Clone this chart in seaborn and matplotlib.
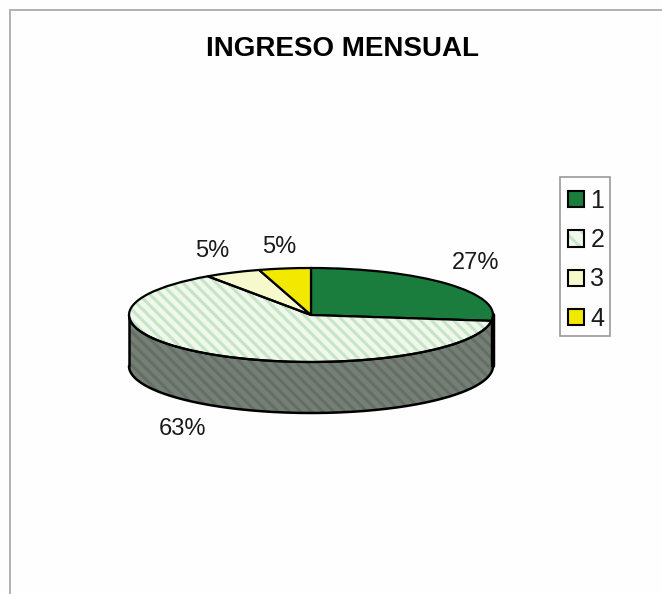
import numpy as np
import matplotlib
matplotlib.use('Agg')
import matplotlib.pyplot as plt
from matplotlib.lines import Line2D
from matplotlib.patches import Rectangle, Wedge
from matplotlib.legend_handler import HandlerTuple
import seaborn as sns

title = 'INGRESO MENSUAL'
categories = ['1', '2', '3', '4']
values = [27, 63.4, 5.0, 4.6]
pct_labels = ['27%', '63%', '5%', '5%']
colors = ['#1a7d3e', '#f0f8ec', '#f6f9cc', '#f3e800']

sns.set_theme(style='white')
plt.rcParams['font.family'] = ['Liberation Sans', 'DejaVu Sans']
plt.rcParams['hatch.linewidth'] = 2.2

W, H = 662, 594
fig = plt.figure(figsize=(W / 100, H / 100), dpi=100, facecolor='#fefefe')

# pie sits in its own axes, stretched flat afterwards
rx, ry, depth = 182, 47, 51
cx, cy = 311, 315
x0, x1 = -1.05, 1.05
y0, y1 = -2.3, 1.1
ax = fig.add_axes([(cx + x0 * rx) / W, 1 - (cy - y0 * ry) / H,
                   (x1 - x0) * rx / W, (y1 - y0) * ry / H])

wedges, _ = ax.pie(values, colors=sns.color_palette(colors), startangle=90, counterclock=False,
                   wedgeprops={'edgecolor': 'black', 'linewidth': 1.6, 'zorder': 3})
ax.set_aspect('auto')
ax.set_xlim(x0, x1)
ax.set_ylim(y0, y1)
wedges[1].set_hatch('\\\\\\')
wedges[1].set_edgecolor('#c6e5c6')
wedges[1].set_linewidth(0)
# black outline on top of the hatched slice
ax.add_patch(Wedge((0, 0), 1, wedges[1].theta1, wedges[1].theta2,
                   facecolor='none', edgecolor='black', linewidth=1.6, zorder=4))

# side wall of the disc, only the part facing the viewer
d = depth / ry
ends = 90 - 3.6 * np.cumsum(values)
starts = np.r_[90, ends[:-1]]
wall_colors = ['#1c1c1c', '#757f76']
for i in range(2):
    a = np.radians(np.linspace(ends[i], starts[i], 200))
    a = a[np.sin(a) <= 0]
    xs = np.cos(a)
    ys = np.sin(a)
    ax.fill_between(xs, ys, ys - d, facecolor=wall_colors[i],
                    edgecolor='#636e64' if i == 1 else '#1c1c1c',
                    hatch='\\\\\\' if i == 1 else None, linewidth=0, zorder=1)
a = np.radians(np.linspace(180, 360, 300))
ax.plot(np.cos(a), np.sin(a) - d, color='black', lw=1.8, zorder=2)
ax.plot([-1, -1], [0, -d], color='black', lw=1.8, zorder=2)
ax.plot([1, 1], [0, -d], color='black', lw=3.2, zorder=2)
ax.plot(np.cos(a), np.sin(a), color='black', lw=1.6, zorder=5)

# percent labels
label_pos = [(476, 263), (183, 429), (212, 251), (279, 247)]
for lab, (px, py) in zip(pct_labels, label_pos):
    fig.text(px / W, 1 - py / H, lab, fontsize=17, color='#1a1a1a', ha='center', va='center')

fig.text(343 / W, 1 - 49 / H, title, fontsize=20, fontweight='bold', color='black', ha='center', va='center')

# legend: frame drawn apart because it is tighter than the legend padding allows
fig.add_artist(Rectangle((560 / W, 1 - 336 / H), 50 / W, 159 / H, transform=fig.transFigure,
                         facecolor='#fefefe', edgecolor='#9a9a9a', linewidth=1.2))
handles = [Rectangle((0, 0), 1, 1, facecolor=c, edgecolor='black', linewidth=1.5) for c in colors]
stripes = Rectangle((0, 0), 1, 1, facecolor=colors[1], edgecolor='#c6e5c6', hatch='\\\\', linewidth=0)
outline = Rectangle((0, 0), 1, 1, facecolor='none', edgecolor='black', linewidth=1.5)
handles[1] = (stripes, outline)
leg = fig.legend(handles, categories, loc='upper left', bbox_to_anchor=(568 / W, 1 - 189 / H),
                 fontsize=18, frameon=False, handlelength=0.62, handleheight=0.62,
                 handletextpad=0.27, labelspacing=0.61, borderpad=0, borderaxespad=0,
                 labelcolor='#1a1a1a', handler_map={tuple: HandlerTuple(ndivide=1, pad=0)})

# outer frame of the scan, open at right and bottom
fig.add_artist(Line2D([10 / W, 10 / W], [0, 1 - 9.5 / H], color='#b0b0b0', lw=1.4))
fig.add_artist(Line2D([10 / W, 1], [1 - 9.5 / H, 1 - 9.5 / H], color='#b0b0b0', lw=1.4))

fig.savefig('out.png', dpi=100, facecolor=fig.get_facecolor())
